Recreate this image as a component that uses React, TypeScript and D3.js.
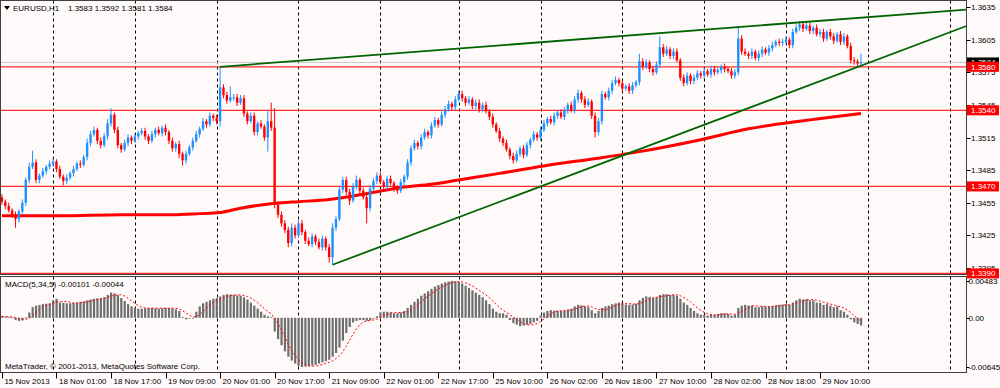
import React from "react";
import * as d3 from "d3";

// ---------- DATA ----------
const firstOpen = 1.3460;
// H1 closes, bar 0 = 15 Nov 2013 08:00 … bar 252 = 29 Nov 22:00
const closes = [
  1.3456,1.3452,1.3448,1.3444,1.3440,1.3447,1.3455,1.3476,1.3488,1.3492,
  1.3476,1.3480,1.3484,1.3488,1.3491,1.3493,1.3486,1.3479,1.3475,1.3478,
  1.3482,1.3486,1.3491,1.3490,1.3497,1.3510,1.3518,1.3522,1.3512,1.3508,
  1.3516,1.3528,1.3536,1.3522,1.3508,1.3504,1.3510,1.3515,1.3512,1.3516,
  1.3519,1.3521,1.3516,1.3512,1.3518,1.3522,1.3519,1.3524,1.3520,1.3512,
  1.3505,1.3509,1.3500,1.3494,1.3500,1.3506,1.3512,1.3518,1.3523,1.3530,
  1.3527,1.3535,1.3533,1.3530,1.3561,1.3554,1.3549,1.3552,1.3552,1.3547,
  1.3551,1.3537,1.3530,1.3535,1.3520,1.3528,1.3525,1.3515,1.3530,1.3524,
  1.3453,1.3444,1.3436,1.3430,1.3418,1.3432,1.3425,1.3436,1.3428,1.3420,
  1.3417,1.3424,1.3419,1.3414,1.3422,1.3414,1.3405,1.3432,1.3440,1.3467,
  1.3476,1.3465,1.3457,1.3470,1.3476,1.3466,1.3460,1.3450,1.3468,1.3475,
  1.3480,1.3474,1.3470,1.3477,1.3473,1.3468,1.3466,1.3474,1.3479,1.3492,
  1.3505,1.3510,1.3507,1.3515,1.3520,1.3517,1.3526,1.3531,1.3527,1.3536,
  1.3541,1.3546,1.3543,1.3550,1.3555,1.3551,1.3547,1.3550,1.3544,1.3547,
  1.3541,1.3545,1.3539,1.3534,1.3527,1.3521,1.3514,1.3510,1.3504,1.3498,
  1.3494,1.3500,1.3505,1.3499,1.3508,1.3513,1.3518,1.3515,1.3522,1.3528,
  1.3532,1.3529,1.3535,1.3538,1.3534,1.3540,1.3545,1.3540,1.3550,1.3556,
  1.3550,1.3545,1.3548,1.3535,1.3520,1.3530,1.3555,1.3552,1.3558,1.3565,
  1.3568,1.3565,1.3560,1.3562,1.3558,1.3563,1.3566,1.3585,1.3580,1.3584,
  1.3578,1.3575,1.3582,1.3598,1.3592,1.3596,1.3590,1.3594,1.3586,1.3570,
  1.3565,1.3572,1.3567,1.3570,1.3574,1.3572,1.3576,1.3573,1.3578,1.3575,
  1.3577,1.3580,1.3578,1.3576,1.3572,1.3575,1.3606,1.3594,1.3592,1.3590,
  1.3594,1.3588,1.3592,1.3596,1.3593,1.3597,1.3600,1.3603,1.3602,1.3603,
  1.3605,1.3600,1.3612,1.3616,1.3619,1.3615,1.3618,1.3613,1.3616,1.3610,
  1.3612,1.3606,1.3612,1.3608,1.3604,1.3610,1.3603,1.3608,1.3599,1.3586,
  1.3585,1.3583,1.3584,
];
// upper / lower wick lengths in pips
const upWicks = [
  3,2,3,2,3,2,3,2,4,11, 3,2,3,2,3,3,2,3,2,3, 2,3,2,3,2,4,3,3,2,3, 3,4,6,2,3,2,3,3,2,3,
  2,3,3,2,3,2,3,2,3,2, 3,2,3,2,3,2,3,3,2,3, 2,3,2,3,19,3,3,10,3,3, 3,3,2,3,3,2,3,2,10,17,
  18,3,3,3,3,4,3,3,3,2, 3,3,2,3,3,2,3,4,3,3, 3,3,3,3,4,2,3,3,3,3, 3,3,2,3,3,2,3,3,2,3,
  3,3,2,3,3,2,3,3,2,3, 3,3,2,3,3,3,2,3,2,3, 3,2,3,2,3,2,3,2,3,2, 3,3,2,3,3,2,3,2,3,3,
  2,3,3,2,3,3,2,3,3,3, 2,3,3,2,3,3,3,2,3,3, 3,2,3,2,3,3,2,7,3,3, 2,3,3,10,3,3,2,3,3,2,
  3,3,2,3,3,2,3,2,3,3, 3,2,3,2,3,3,11,3,3,2, 3,2,3,3,2,3,3,2,3,3, 3,2,3,3,3,2,3,3,2,3,
  3,3,2,3,3,2,3,3,2,3, 3,2,8,
];
const dnWicks = [
  3,3,2,3,8,3,2,3,3,2, 3,3,2,3,2,3,3,2,4,3, 2,3,2,3,2,3,3,2,3,3, 2,3,3,3,3,3,2,3,3,2,
  3,2,3,3,2,3,2,3,3,3, 3,3,4,5,3,2,3,2,3,2, 3,2,3,3,5,3,3,2,3,3, 2,3,3,2,3,3,2,3,13,3,
  3,3,3,3,4,3,3,2,3,3, 2,3,3,2,3,3,5,7,3,2, 3,3,4,2,3,3,2,14,3,2, 3,2,3,3,2,3,3,2,3,3,
  3,2,3,3,2,3,3,2,3,2, 3,2,3,3,2,3,3,2,3,3, 3,3,2,3,3,2,3,3,2,3, 3,2,3,3,2,3,2,3,3,2,
  3,2,3,3,2,3,3,2,3,3, 3,3,2,3,5,3,3,2,3,3, 2,3,3,2,3,3,2,3,3,2, 3,3,2,3,3,2,3,3,2,3,
  3,2,3,3,2,3,3,2,3,3, 2,3,3,2,3,3,3,3,2,3, 3,2,3,3,2,3,3,2,3,3, 2,3,3,2,3,3,2,3,3,2,
  3,3,2,3,3,2,3,3,2,3, 3,3,2,
];
// MACD(5,34,5) main line, in units of 0.00001
const macdMain = [
  20,15,10,5,-30,-40,-35,5,70,140, 160,170,180,185,190,230,250,200,195,190,
  190,195,200,210,215,230,240,250,255,260, 270,300,330,320,300,260,220,180,150,130,
  120,120,125,130,130,125,120,125,130,130, 125,110,90,10,-20,-10,0,80,150,190,
  210,230,250,260,280,300,310,305,300,295, 290,270,240,200,160,120,80,40,20,10,
  -180,-280,-360,-440,-510,-560,-600,-630,-645,-640, -635,-625,-615,-600,-585,-570,-550,-510,-460,-390,
  -300,-200,-120,-60,-40,-30,-30,-40,-30,-10, 20,70,80,80,70,60,60,70,90,130,
  170,210,250,290,320,350,380,410,430,450, 465,475,483,480,470,450,420,390,360,330,
  300,270,230,180,120,80,60,60,40,-30, -70,-90,-110,-100,-90,-80,-60,-40,30,70,
  90,100,95,90,90,95,110,120,150,170, 165,150,140,100,60,90,130,150,160,180,
  190,200,190,175,170,175,185,230,260,280, 275,260,270,300,310,310,300,300,290,250,
  200,170,130,90,60,40,40,30,40,40, 50,60,60,50,30,40,130,160,170,160,
  160,140,140,150,145,150,155,165,170,175, 180,170,200,230,250,240,245,230,230,200,
  195,170,180,160,140,150,100,80,40,-20, -60,-80,-101,
];
// long moving average (thick red line) read at these bars
const maBars = [0, 17, 35, 50, 58, 64, 70, 76, 82, 87, 96, 108, 117, 126, 134, 146, 161, 175, 187, 205, 219, 234, 239, 252];
const maValues = [1.3443, 1.3443, 1.3444, 1.3444, 1.3445, 1.3446, 1.3450, 1.3453, 1.3455, 1.3456, 1.3458, 1.3464, 1.3469, 1.3472, 1.3476, 1.3482, 1.3490, 1.3496, 1.3502, 1.3513, 1.3523, 1.3530, 1.3532, 1.3537];

const priceTicks = [1.3635, 1.3605, 1.3575, 1.3545, 1.3515, 1.3485, 1.3455, 1.3425, 1.3395];
const levelLines = [1.3580, 1.3540, 1.3470, 1.3390];
const bidPrice = 1.3584;
const macdTicks = [0.00483, 0.0, -0.00645];
const macdTickLabels = ["0.00483", "0.00", "-0.00645"];
const timeTickBars = [0, 16, 32, 48, 64, 80, 96, 112, 128, 144, 160, 176, 192, 208, 224, 240];
const timeTickLabels = [
  "15 Nov 2013", "18 Nov 01:00", "18 Nov 17:00", "19 Nov 09:00", "20 Nov 01:00", "20 Nov 17:00",
  "21 Nov 09:00", "22 Nov 01:00", "22 Nov 17:00", "25 Nov 10:00", "26 Nov 02:00", "26 Nov 18:00",
  "27 Nov 10:00", "28 Nov 02:00", "28 Nov 18:00", "29 Nov 10:00",
];
const dayStartBars = [15, 39, 63, 87, 111, 134, 158, 182, 206, 230, 254, 278];
const trendBars = [[64, 193], [97, 252]];
const trendPrices = [[1.3580, 1.3611], [1.3398, 1.3581]];

const symbolText = "EURUSD,H1";
const lastOHLC = "1.3583 1.3592 1.3581 1.3584";
const macdTitle = "MACD(5,34,5) -0.00101 -0.00044";
const copyright = "MetaTrader, \u00A9 2001-2013, MetaQuotes Software Corp.";

// ---------- CHART ----------
const FONT = "Tahoma, 'Liberation Sans', Arial, sans-serif";

export default function App() {
  const W = 1000, H = 388;
  const left = 0.5, right = 966.5;
  const mainTop = 0.5, mainBottom = 274.5;
  const macdTop = 276.5, macdBottom = 372.5;
  const fs = 8;

  const x = d3.scaleLinear().domain([0, 283]).range([1.9, 1.9 + 3.409 * 283]);
  const y = d3.scaleLinear().domain([1.3395, 1.3635]).range([268, 7]);
  const ym = d3.scaleLinear().domain([-0.00645, 0.00483]).range([367, 281]);
  const pip = 0.0001;

  const candles = closes.map((c, i) => {
    const o = i === 0 ? firstOpen : closes[i - 1];
    const hi = Math.max(o, c) + upWicks[i] * pip;
    const lo = Math.min(o, c) - dnWicks[i] * pip;
    return { i, o, c, hi, lo, bull: c >= o };
  });

  const macd = macdMain.map((v) => v / 100000);
  const signal = macd.map((_, i) => d3.mean(macd.slice(Math.max(0, i - 4), i + 1)) as number);

  const maLine = d3.line<number>().x((_, k) => x(maBars[k])).y((v) => y(v)).curve(d3.curveMonotoneX)(maValues) || "";
  const sigLine = d3.line<number>().x((_, i) => x(i)).y((v) => ym(v))(signal) || "";

  const trendPaths = trendBars.map((bars, k) => {
    const [b1, b2] = bars;
    const [p1, p2] = trendPrices[k];
    const slope = (p2 - p1) / (b2 - b1);
    const bEnd = x.invert(right);
    const pts: [number, number][] = [[b1, p1], [bEnd, p1 + slope * (bEnd - b1)]];
    return d3.line<[number, number]>().x((d) => x(d[0])).y((d) => y(d[1]))(pts) || "";
  });

  const bull = "#1e90ff";
  const bear = "#ff0000";

  return (
    <svg width={W} height={H} style={{ position: "absolute", left: 0, top: 0, display: "block" }} fontFamily={FONT}>
      <defs>
        <clipPath id="mainClip"><rect x={left} y={mainTop} width={right - left} height={mainBottom - mainTop} /></clipPath>
        <clipPath id="macdClip"><rect x={left} y={macdTop} width={right - left} height={macdBottom - macdTop} /></clipPath>
      </defs>
      <rect x={0} y={0} width={W} height={H} fill="#fffafa" />

      {dayStartBars.map((b) => (
        <g key={"g" + b}>
          <line x1={Math.round(x(b)) + 0.5} x2={Math.round(x(b)) + 0.5} y1={mainTop} y2={mainBottom} stroke="#000" strokeDasharray="3,3" />
          <line x1={Math.round(x(b)) + 0.5} x2={Math.round(x(b)) + 0.5} y1={macdTop} y2={macdBottom} stroke="#000" strokeDasharray="3,3" />
        </g>
      ))}

      <g clipPath="url(#mainClip)">
        <line x1={left} x2={right} y1={y(bidPrice)} y2={y(bidPrice)} stroke="#c8c8c8" strokeWidth={1} />
        {levelLines.map((p) => (
          <line key={"l" + p} x1={left} x2={right} y1={y(p)} y2={y(p)} stroke="#ff2a2a" strokeWidth={1.3} />
        ))}
        <path d={maLine} fill="none" stroke="#ff0000" strokeWidth={3} />
        {candles.map((d) => {
          const cx = x(d.i);
          const col = d.bull ? bull : bear;
          const top = y(Math.max(d.o, d.c));
          const bot = y(Math.min(d.o, d.c));
          return (
            <g key={"c" + d.i}>
              <line x1={cx} x2={cx} y1={y(d.hi)} y2={y(d.lo)} stroke={col} strokeWidth={1} />
              <rect x={cx - 1.2} y={top} width={2.4} height={Math.max(1, bot - top)} fill={col} />
            </g>
          );
        })}
        {trendPaths.map((p, k) => (
          <path key={"t" + k} d={p} fill="none" stroke="#006400" strokeWidth={1.8} />
        ))}
      </g>

      <g clipPath="url(#macdClip)">
        {macd.map((v, i) => (
          <rect key={"m" + i} x={x(i) - 1} width={2.2} y={Math.min(ym(v), ym(0))} height={Math.max(0.8, Math.abs(ym(v) - ym(0)))} fill="#6e6e6e" />
        ))}
        <path d={sigLine} fill="none" stroke="#ff0000" strokeWidth={1} strokeDasharray="2,2" />
      </g>

      <rect x={left} y={mainTop} width={right - left} height={mainBottom - mainTop} fill="none" stroke="#404040" />
      <rect x={left} y={macdTop} width={right - left} height={macdBottom - macdTop} fill="none" stroke="#404040" />

      {priceTicks.map((p) => (
        <g key={"p" + p}>
          <line x1={right} x2={right + 4} y1={Math.round(y(p)) + 0.5} y2={Math.round(y(p)) + 0.5} stroke="#000" />
          <text x={971} y={y(p) + 3} fontSize={fs} fill="#000">{p.toFixed(4)}</text>
        </g>
      ))}
      <g>
        <rect x={967} y={y(bidPrice) - 5} width={32} height={10} fill="#000" />
        <text x={971} y={y(bidPrice) + 3} fontSize={fs} fill="#fff">{bidPrice.toFixed(4)}</text>
      </g>
      {levelLines.map((p) => (
        <g key={"lb" + p}>
          <rect x={967} y={y(p) - 5} width={32} height={10} fill="#ff0000" />
          <text x={971} y={y(p) + 3} fontSize={fs} fill="#fff">{p.toFixed(4)}</text>
        </g>
      ))}

      {macdTicks.map((v, k) => (
        <g key={"mt" + k}>
          <line x1={right} x2={right + 3} y1={Math.round(ym(v)) + 0.5} y2={Math.round(ym(v)) + 0.5} stroke="#000" />
          <text x={968.5} y={ym(v) + 3} fontSize={fs} fill="#000">{macdTickLabels[k]}</text>
        </g>
      ))}

      {timeTickBars.map((b, k) => (
        <g key={"tt" + b}>
          <line x1={Math.round(x(b)) + 0.5} x2={Math.round(x(b)) + 0.5} y1={macdBottom} y2={macdBottom + 6} stroke="#000" />
          <text x={x(b) + 2.5} y={384} fontSize={fs} fill="#000">{timeTickLabels[k]}</text>
        </g>
      ))}

      <path d="M4,6 L10,6 L7,10 Z" fill="#000" />
      <text x={13} y={10.5} fontSize={fs} fill="#000">{symbolText}</text>
      <text x={68} y={10.5} fontSize={fs} fill="#000">{lastOHLC}</text>
      <text x={5} y={287} fontSize={fs} fill="#000">{macdTitle}</text>
      <text x={5} y={369} fontSize={fs} fill="#000">{copyright}</text>
    </svg>
  );
}
